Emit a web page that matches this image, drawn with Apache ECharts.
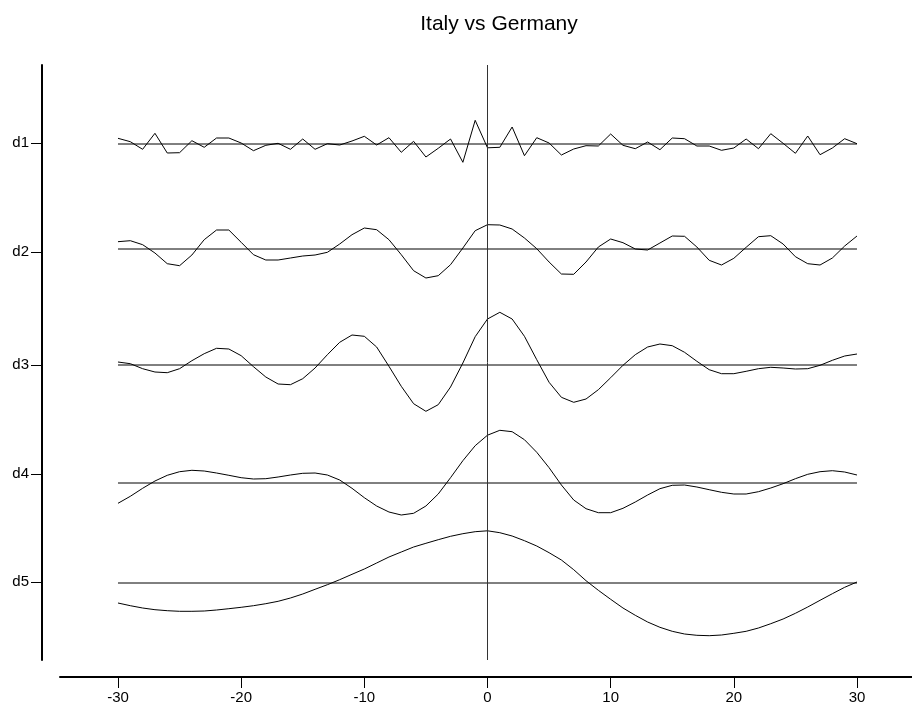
<!DOCTYPE html>
<html><head><meta charset="utf-8">
<script src="https://cdn.jsdelivr.net/npm/echarts@6/dist/echarts.min.js"></script>
<style>html,body{margin:0;padding:0;background:#fff}#chart{width:912px;height:719px}</style>
</head><body><div id="chart"></div>
<script>
const lags = [-30,-29,-28,-27,-26,-25,-24,-23,-22,-21,-20,-19,-18,-17,-16,-15,-14,-13,-12,-11,-10,-9,-8,-7,-6,-5,-4,-3,-2,-1,0,1,2,3,4,5,6,7,8,9,10,11,12,13,14,15,16,17,18,19,20,21,22,23,24,25,26,27,28,29,30];
const seriesNames = ['d1','d2','d3','d4','d5'];
const xTicks = [-30,-20,-10,0,10,20,30];
// level (baseline) of each component on the stacked vertical scale
const levels = [516, 411, 295, 177, 77];
// level of each row label
const labelLevels = [517, 408, 295, 186, 78];

const d1 = [5.7,2.3,-5.3,10.7,-9,-8.7,3.3,-3.3,6,6,1,-6.7,-1.3,0.7,-5.3,5,-5.3,0.3,-1,3,7.7,-1,6.3,-8.3,2.7,-13,-4.3,5,-18.3,23.7,
  -3.8,-3.3,17,-11.7,6.3,1,-11,-5,-1.7,-2,10,-1.3,-4.7,2,-5.7,6,5.3,-2,-2,-6.3,-4,5,-4.7,10.3,0.7,-9.3,8,-10.7,-4,5.3,0.3];
const d2 = [7.3,8.3,4.3,-4,-14.7,-16.7,-6,9.3,19,19,6.7,-5.7,-11,-11,-9,-7,-6,-3.3,5,14.3,21,19.3,9.3,-5.7,-21.7,-29,-26.7,-15.7,1,18.3,
  24.3,24,20,11,0.3,-13,-25,-25.3,-13,2,10,6.3,0,-1,6,13,12.7,2,-11.3,-16,-9.3,1.7,12.3,13.3,5,-7.7,-14.7,-16,-9,3,13];
const d3 = [3,1.3,-3.7,-7,-7.7,-3.7,4.3,11.3,16.7,16,9.3,-1.7,-12,-19,-19.7,-13.7,-3,10.3,22.7,30,28.7,18,-1.3,-21.3,-38.7,-46.3,-39.7,-22,2,28.3,
  46,52.7,46,28.7,5.3,-17.3,-32.3,-37.3,-34,-24.7,-12.7,-0.3,10.3,18,21,19.3,12.7,3.7,-4.7,-8.7,-8.7,-6.3,-3.7,-2.3,-3,-4,-3.7,-0.3,4.7,9,11];
const d4 = [-20.3,-13.3,-5.3,2,7.7,11.3,12.7,12,10,7.7,5.3,4,4.3,6,8,9.7,10,8,3,-5.3,-14.7,-23,-29,-32,-30.3,-23,-11,5.3,22.3,37.3,
  47.8,52.7,51.3,43.3,30.7,15.3,-2,-17,-25.7,-29.7,-29.7,-25.3,-19,-12,-5.7,-2.3,-2,-4,-6.7,-9.3,-11,-11,-8.7,-5,-0.7,4.3,8.7,11.3,12.3,11,8];
const d5 = [-20,-22.7,-25,-26.7,-27.7,-28.3,-28.3,-28,-27,-25.7,-24.3,-22.7,-20.7,-18.3,-15,-11,-6.3,-1.7,3.3,8.7,14,20,26,31,36,39.7,43.3,46.7,49.3,51.3,
  52.2,50.3,47,42.3,37,30.3,23,13.3,2.3,-7.3,-16.3,-25,-32.3,-39,-44.3,-48.3,-51,-52.3,-52.7,-52,-50.3,-48.3,-45,-40.7,-36,-30.3,-24,-17.3,-10.7,-4.3,1];

const values = [d1, d2, d3, d4, d5];
const FONT = "'Liberation Sans', Arial, sans-serif";

const series = [];
values.forEach((vals, k) => {
  series.push({
    name: seriesNames[k], type: 'line', symbol: 'none', silent: true,
    data: lags.map((x, i) => [x, levels[k] + vals[i]]),
    lineStyle: {color: '#000', width: 1}
  });
  series.push({
    name: seriesNames[k] + ' base', type: 'line', symbol: 'none', silent: true,
    data: [[lags[0], levels[k]], [lags[lags.length - 1], levels[k]]],
    lineStyle: {color: '#000', width: 1}
  });
});
series.push({
  type: 'line', data: [], silent: true,
  markLine: {symbol: 'none', silent: true, label: {show: false},
    lineStyle: {color: '#333', width: 1, type: 'solid'},
    data: [{xAxis: 0}]}
});

const chart = echarts.init(document.getElementById('chart'), null, {renderer: 'canvas'});
chart.setOption({
  animation: false,
  backgroundColor: '#fff',
  title: {text: 'Italy vs Germany', left: 494, top: 9, textAlign: 'center',
    textStyle: {fontFamily: FONT, fontSize: 21, fontWeight: 'normal', color: '#000'}},
  grid: {left: 60, right: 0, top: 65, bottom: 59},
  xAxis: {type: 'value', min: -34.709, max: 34.466, offset: 17,
    axisLine: {show: true, onZero: false, lineStyle: {color: '#000', width: 2}},
    axisTick: {show: true, customValues: xTicks, length: 11, lineStyle: {color: '#000', width: 1}},
    axisLabel: {show: true, customValues: xTicks, margin: 13, fontFamily: FONT, fontSize: 15, color: '#000'},
    splitLine: {show: false}},
  yAxis: {type: 'value', min: 0, max: 595, offset: 18,
    axisLine: {show: true, onZero: false, lineStyle: {color: '#000', width: 2}},
    axisTick: {show: true, customValues: labelLevels, length: 11, lineStyle: {color: '#000', width: 1}},
    axisLabel: {show: true, customValues: labelLevels, margin: 13, fontFamily: FONT, fontSize: 15, color: '#000',
      formatter: v => seriesNames[labelLevels.indexOf(v)] || ''},
    splitLine: {show: false}},
  series: series
});
</script>
</body></html>
